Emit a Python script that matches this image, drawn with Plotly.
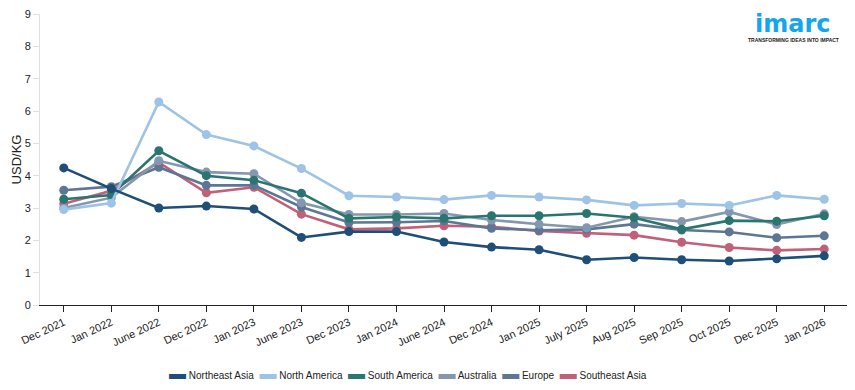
import plotly.graph_objects as go

periods = ["Dec 2021", "Jan 2022", "June 2022", "Dec 2022", "Jan 2023", "June 2023",
           "Dec 2023", "Jan 2024", "June 2024", "Dec 2024", "Jan 2025", "July 2025",
           "Aug 2025", "Sep 2025", "Oct 2025", "Dec 2025", "Jan 2026"]

northeast_asia = [4.24, 3.60, 3.00, 3.06, 2.97, 2.09, 2.27, 2.27, 1.95, 1.79, 1.71, 1.40, 1.47, 1.40, 1.36, 1.43, 1.52]
north_america = [2.95, 3.15, 6.28, 5.27, 4.92, 4.22, 3.38, 3.34, 3.26, 3.39, 3.34, 3.25, 3.08, 3.14, 3.08, 3.39, 3.27]
south_america = [3.27, 3.40, 4.77, 4.00, 3.86, 3.46, 2.68, 2.72, 2.68, 2.76, 2.76, 2.83, 2.70, 2.34, 2.61, 2.59, 2.76]
australia = [3.00, 3.32, 4.46, 4.11, 4.06, 3.16, 2.80, 2.80, 2.83, 2.63, 2.50, 2.39, 2.73, 2.58, 2.88, 2.49, 2.82]
europe = [3.55, 3.66, 4.26, 3.70, 3.70, 3.03, 2.55, 2.56, 2.60, 2.37, 2.31, 2.34, 2.50, 2.32, 2.26, 2.08, 2.14]
southeast_asia = [3.13, 3.53, 4.41, 3.47, 3.64, 2.81, 2.34, 2.37, 2.45, 2.42, 2.29, 2.22, 2.16, 1.94, 1.78, 1.69, 1.73]

series_names = ["Northeast Asia", "North America", "South America", "Australia", "Europe", "Southeast Asia"]
series_values = [northeast_asia, north_america, south_america, australia, europe, southeast_asia]
series_colors = ["#1f4e79", "#9dc3e6", "#2a7570", "#8497b0", "#5c7693", "#c0617a"]

fig = go.Figure()
x_idx = list(range(len(periods)))
# draw in reverse so Northeast Asia is on top
for name, vals, color in reversed(list(zip(series_names, series_values, series_colors))):
    fig.add_trace(go.Scatter(x=x_idx, y=vals, mode="lines+markers", name=name,
                             line=dict(color=color, width=2.6),
                             marker=dict(color=color, size=9),
                             showlegend=False))

font_family = "Liberation Sans, Arial, sans-serif"

# compact legend row built as text
legend_parts = []
for name, color in zip(series_names, series_colors):
    legend_parts.append(f'<span style="color:{color};font-size:17px">▬</span> {name}')
legend_text = "&nbsp;&nbsp;".join(legend_parts)

fig.update_layout(
    width=847, height=382,
    margin=dict(l=32, r=7, t=6, b=85, autoexpand=False),
    paper_bgcolor="white", plot_bgcolor="white",
    font=dict(family=font_family, size=11, color="#222"),
    showlegend=False,
    xaxis=dict(tickmode="array", tickvals=x_idx, ticktext=periods, range=[-0.5, 16.5],
               showgrid=False, showline=True, linecolor="#222", linewidth=1,
               ticks="outside", ticklen=6, tickcolor="#222", tickangle=-25,
               tickfont=dict(size=11, color="#222"), zeroline=False,
               ticklabeloverflow="allow"),
    yaxis=dict(range=[0, 9], dtick=1, showgrid=False, showline=True, linecolor="#e0e0e0",
               linewidth=1, ticks="outside", ticklen=6, tickcolor="#e0e0e0",
               tickfont=dict(size=11, color="#222"), zeroline=False,
               ticklabeloverflow="allow",
               title=dict(text="USD/KG", font=dict(size=13, color="#222"), standoff=0)),
)

fig.add_annotation(text=legend_text, xref="paper", yref="paper", x=0.455, y=-0.235,
                   xanchor="center", yanchor="middle", showarrow=False,
                   font=dict(family=font_family, size=10, color="#222"))

fig.add_annotation(text="<b>imarc</b>", xref="paper", yref="paper", x=0.932, y=1.0206,
                   xanchor="center", yanchor="top", showarrow=False,
                   font=dict(family="DejaVu Sans, sans-serif", size=24, color="#13a6ee"))
fig.add_annotation(text="<b>TRANSFORMING IDEAS INTO IMPACT</b>", xref="paper", yref="paper",
                   x=0.932, y=0.912, xanchor="center", yanchor="middle", showarrow=False,
                   font=dict(family=font_family, size=5, color="#222"))

fig.write_html("out.html")
